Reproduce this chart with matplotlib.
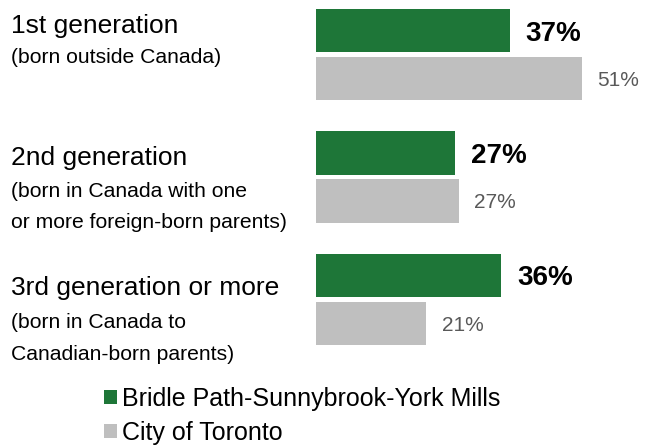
import matplotlib
matplotlib.use("Agg")
import matplotlib.pyplot as plt
from matplotlib.patches import Patch

plt.rcParams['font.family'] = ['Liberation Sans', 'DejaVu Sans']

# ---- data ----
titles = ["1st generation", "2nd generation", "3rd generation or more"]
subtitles = [
    ["(born outside Canada)"],
    ["(born in Canada with one", "or more foreign-born parents)"],
    ["(born in Canada to", "Canadian-born parents)"],
]
neighbourhood = [37.2, 26.7, 35.6]
toronto = [51.0, 27.4, 21.2]
series_names = ["Bridle Path-Sunnybrook-York Mills", "City of Toronto"]

# ---- style ----
GREEN = "#1E7638"
GREY = "#BFBFBF"
W, H = 656, 445

fig = plt.figure(figsize=(W / 100, H / 100), dpi=100)

def fx(x):
    return x / W

def fy(y):
    return 1 - y / H

# bar axes: left edge at pixel 316, 5.21 px per percent
left_px = 316
px_per_pct = 5.21
unit_px = 122.4
g0_px = 54.6
ax = fig.add_axes([fx(left_px), 0, (W - left_px) / W, 1])
ax.set_xlim(0, (W - left_px) / px_per_pct)
ax.set_ylim((H - g0_px) / unit_px, -g0_px / unit_px)
ax.axis('off')

off = 23.95 / unit_px
bh = 43.5 / unit_px
ys = list(range(len(titles)))
ax.barh([y - off for y in ys], neighbourhood, height=bh, color=GREEN, label=series_names[0])
ax.barh([y + off for y in ys], toronto, height=bh, color=GREY, label=series_names[1])

for y, v in zip(ys, neighbourhood):
    ax.annotate(f"{round(v)}%", xy=(v, y - off), xytext=(15.5, -10), textcoords='offset pixels',
                fontsize=20, fontweight='bold', color='black', va='baseline', ha='left')
for y, v in zip(ys, toronto):
    ax.annotate(f"{round(v)}%", xy=(v, y + off), xytext=(15.5, -7.5), textcoords='offset pixels',
                fontsize=15, color='#595959', va='baseline', ha='left')

# left category text (baselines in pixels)
title_base = [33, 165, 295]
sub_base = [[63.3], [196.7, 228.3], [328.3, 360]]
for t, tb, subs, sbs in zip(titles, title_base, subtitles, sub_base):
    fig.text(fx(11), fy(tb), t, fontsize=19, color='black', va='baseline', ha='left')
    for s, sb in zip(subs, sbs):
        fig.text(fx(11), fy(sb), s, fontsize=15.2, color='black', va='baseline', ha='left')

handles = [Patch(facecolor=GREEN, edgecolor='none'), Patch(facecolor=GREY, edgecolor='none')]
fig.legend(handles, series_names, loc='upper left', bbox_to_anchor=(fx(104), fy(387)),
           frameon=False, fontsize=18, handlelength=0.52, handleheight=0.52,
           handletextpad=0.2, labelspacing=0.40, borderpad=0, borderaxespad=0)

fig.savefig("out.png", dpi=100)
